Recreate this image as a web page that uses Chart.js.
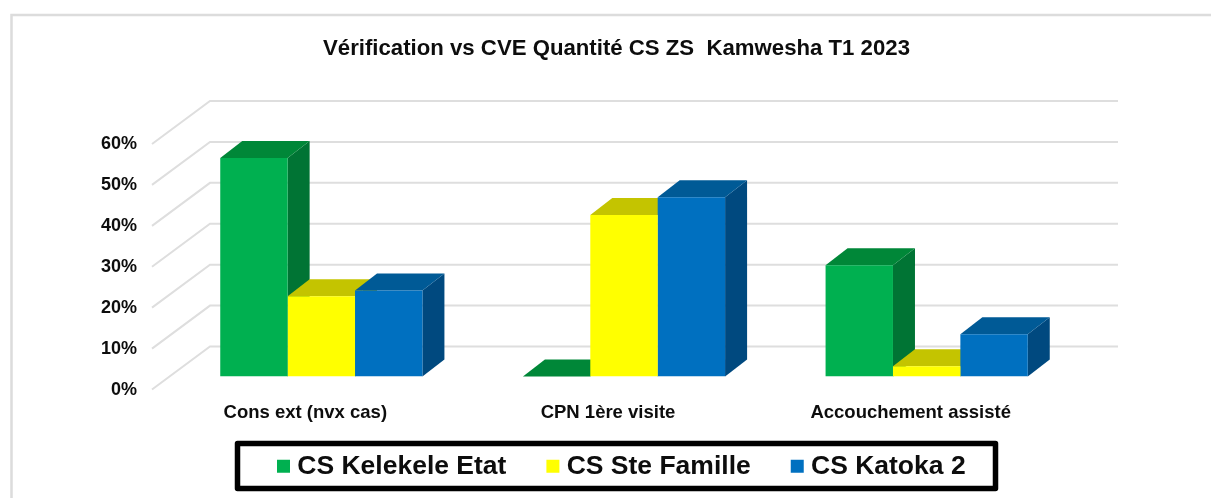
<!DOCTYPE html>
<html><head><meta charset="utf-8">
<style>html,body{margin:0;padding:0;background:#fff}#w{width:1211px;height:498px;position:relative}</style>
<script src="https://cdn.jsdelivr.net/npm/chart.js@4"></script>
</head><body><div id="w"><canvas id="c" width="1211" height="498"></canvas></div>
<script>
const categories = ['Cons ext (nvx cas)', 'CPN 1ère visite', 'Accouchement assisté'];
const kelekele = [53.4, 0, 27.2];
const steFamille = [19.6, 39.5, 2.5];
const katoka = [21, 43.8, 10.3];
const seriesNames = ['CS Kelekele Etat', 'CS Ste Famille', 'CS Katoka 2'];
const yTicks = [0, 10, 20, 30, 40, 50, 60];
const chartTitle = 'Vérification vs CVE Quantité CS ZS  Kamwesha T1 2023';

const FRONT = ['#00B050', '#FFFF00', '#0070C0'];
const TOP = ['#008738', '#C4C400', '#005A96'];
const SIDE = ['#007434', '#A8A800', '#00497F'];
const FONT = '"Liberation Sans", Arial, sans-serif';
const TEXT = '#0d0d0d';

const threeD = {
  id: 'threeD',
  beforeDraw(chart) {
    const { ctx } = chart;
    ctx.save();
    ctx.strokeStyle = '#DCDCDC';
    ctx.lineWidth = 2.5;
    ctx.beginPath();
    ctx.moveTo(11.5, 498);
    ctx.lineTo(11.5, 15);
    ctx.lineTo(1211, 15);
    ctx.stroke();
    ctx.restore();
  },
  afterLayout(chart) {
    const l = chart.legend, t = chart.titleBlock;
    l.left = 237; l.right = 1211; l.top = 407;
    t.left = 22; t.right = 1211;
  },
  beforeDatasetsDraw(chart) {
    const { ctx, chartArea: a, scales: { y } } = chart;
    ctx.save();
    ctx.strokeStyle = '#DEDEDE';
    ctx.lineWidth = 2;
    yTicks.forEach(v => {
      const py = y.getPixelForValue(v);
      ctx.beginPath();
      ctx.moveTo(a.left - 18, py + 13);
      ctx.lineTo(a.left + 40, py - 30);
      ctx.lineTo(a.right + 40, py - 30);
      ctx.stroke();
    });
    const dx = 22, dy = 17;
    chart.data.datasets.forEach((ds, i) => {
      chart.getDatasetMeta(i).data.forEach(b => {
        const p = b.getProps(['x', 'y', 'base', 'width']);
        const L = p.x - p.width / 2, R = p.x + p.width / 2;
        ctx.fillStyle = SIDE[i];
        ctx.beginPath();
        ctx.moveTo(R, p.y); ctx.lineTo(R + dx, p.y - dy);
        ctx.lineTo(R + dx, p.base - dy); ctx.lineTo(R, p.base);
        ctx.closePath(); ctx.fill();
        ctx.fillStyle = TOP[i];
        ctx.beginPath();
        ctx.moveTo(L, p.y); ctx.lineTo(L + dx, p.y - dy);
        ctx.lineTo(R + dx, p.y - dy); ctx.lineTo(R, p.y);
        ctx.closePath(); ctx.fill();
      });
    });
    ctx.restore();
  },
  afterDraw(chart) {
    const { ctx } = chart;
    ctx.save();
    ctx.strokeStyle = '#000';
    ctx.lineWidth = 5.5;
    ctx.lineJoin = 'round';
    ctx.strokeRect(237.5, 443.5, 758, 45);
    ctx.restore();
  }
};

new Chart(document.getElementById('c'), {
  type: 'bar',
  plugins: [threeD],
  data: {
    labels: categories,
    datasets: [
      { label: seriesNames[0], data: kelekele, backgroundColor: FRONT[0] },
      { label: seriesNames[1], data: steFamille, backgroundColor: FRONT[1] },
      { label: seriesNames[2], data: katoka, backgroundColor: FRONT[2] }
    ]
  },
  options: {
    responsive: false,
    animation: false,
    layout: { padding: { left: 0, right: 133, top: 0, bottom: -11 } },
    datasets: { bar: { barPercentage: 1, categoryPercentage: 0.668 } },
    plugins: {
      tooltip: { enabled: false },
      title: {
        display: true, text: chartTitle, color: TEXT,
        font: { family: FONT, size: 22.2, weight: 'bold', lineHeight: 1.2 },
        padding: { top: 36, bottom: 68.36 }
      },
      legend: {
        position: 'bottom', align: 'start',
        labels: {
          color: TEXT, font: { family: FONT, size: 26.5, weight: 'bold' },
          usePointStyle: true, pointStyle: 'rect', boxWidth: 1, boxHeight: 13, padding: 46
        }
      }
    },
    scales: {
      x: {
        grid: { display: false }, border: { display: false },
        afterFit(s) { s.height = 50; },
        ticks: {
          color: TEXT, font: { family: FONT, size: 18.5, weight: 'bold' },
          maxRotation: 0, autoSkip: false, labelOffset: -16, padding: 17
        }
      },
      y: {
        min: 0, max: 60,
        grid: { display: false, drawTicks: false }, border: { display: false },
        afterFit(s) { s.width = 170; },
        ticks: {
          stepSize: 10, color: TEXT, font: { family: FONT, size: 18, weight: 'bold' },
          labelOffset: 13.5, padding: 33,
          callback: v => v + '%'
        }
      }
    }
  }
});
</script></body></html>
